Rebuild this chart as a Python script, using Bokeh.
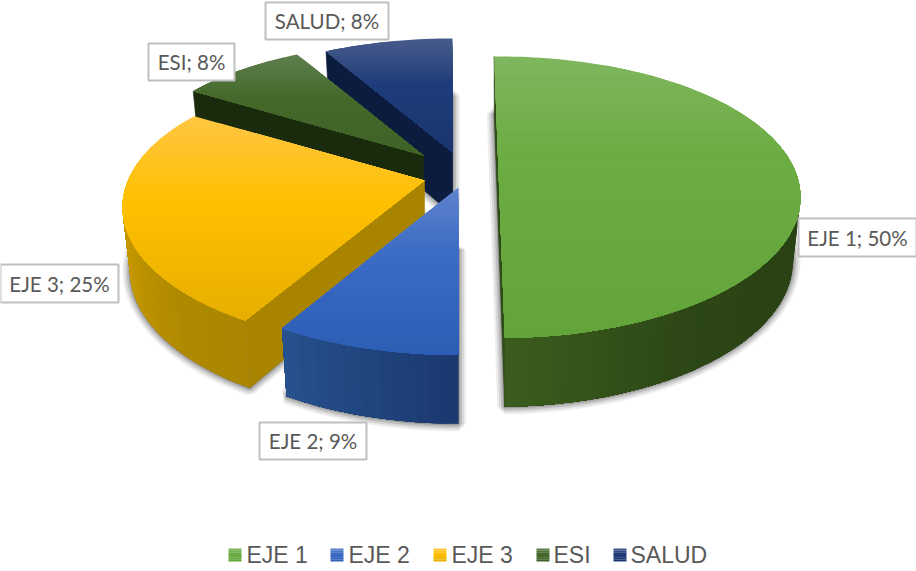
import math
from bokeh.plotting import figure
from bokeh.models import Range1d, ColumnDataSource
from bokeh.core.properties import value
from bokeh.embed import file_html
from bokeh.resources import INLINE

# ---------- data ----------
categories = ["EJE 1", "EJE 2", "EJE 3", "ESI", "SALUD"]
percent = [50, 9, 25, 8, 8]

# ---------- style / layout ----------
W, H = 916, 571
R, RT, K = 296.5, 135.7, 0.19
DEPTH, BX, BY = 62.0, 0.975, 1.04
START = -1.0
apex = [(498, 170), (458, 187), (424, 180), (423, 155), (452, 152)]
nudge = [(0, 0), (1.0, -1.6), (-1.0, 0), (0, 0), (0, 1.0)]
paint_order = [0, 4, 3, 2, 1]
top_stops = [
    [(0, "#7FB65E"), (0.35, "#6BAD42"), (1, "#63A43A")],
    [(0, "#5F83CC"), (0.4, "#3B6BC4"), (1, "#2D5EB6")],
    [(0, "#FFC643"), (0.42, "#FFC000"), (1, "#E6AE00")],
    [(0, "#5F7F50"), (0.42, "#44692A"), (1, "#3F6327")],
    [(0, "#485C8A"), (0.4, "#1F3C7A"), (1, "#1A3570")],
]
wall_stops = [
    [(90, "#2B4515"), (125, "#2A4214"), (150, "#2D4816"), (180, "#3C5D1E")],
    [(180, "#1B386E"), (210, "#26528F")],
    [(205, "#A98400"), (225, "#AE8900"), (255, "#C99A00"), (285, "#DBA800")],
    [(300, "#1A2A0D"), (330, "#1A2A0D")],
    [(330, "#0C1C3E"), (360, "#0C1C3E")],
]
cut_color = ["#2F4C18", "#1B386E", "#A98400", "#1A2A0D", "#0C1C3E"]
SHADOW = [(15, 0.10), (11, 0.14), (7, 0.20), (3, 0.30)]
TXT = "#595959"
label_box = [(798, 916, 218, 256), (259, 366, 422, 459), (0, 118, 264, 302), (148, 234, 43, 80), (265, 388, 2, 39)]
legend_sq = [228, 330, 433, 536, 613]
legend_tx = [246, 348, 451, 553, 630]


def hex2rgb(c):
    return tuple(int(c[i:i + 2], 16) for i in (1, 3, 5))


def mix(stops, f):
    if f <= stops[0][0]:
        return stops[0][1]
    for (a, ca), (b, cb) in zip(stops, stops[1:]):
        if f <= b:
            u = (f - a) / (b - a)
            ra, rb = hex2rgb(ca), hex2rgb(cb)
            return "#%02x%02x%02x" % tuple(round(x + (y - x) * u) for x, y in zip(ra, rb))
    return stops[-1][1]


def top_pt(a, t):
    X, Z = math.sin(math.radians(t)), -math.cos(math.radians(t))
    s = 1 / (1 - K * Z)
    return (a[0] + R * X * s, a[1] + RT * Z * s)


def bot_pt(a, t):
    X, Z = math.sin(math.radians(t)), -math.cos(math.radians(t))
    s = 1 / (1 - K * Z)
    return (a[0] + BX * R * X * s, a[1] + DEPTH + BY * RT * Z * s)


def area(pts):
    return sum(p[0] * q[1] - q[0] * p[1] for p, q in zip(pts, pts[1:] + pts[:1]))


def clip_below(poly, y0):
    out = []
    for p, q in zip(poly, poly[1:] + poly[:1]):
        if p[1] >= y0:
            out.append(p)
        if (p[1] >= y0) != (q[1] >= y0):
            u = (y0 - p[1]) / (q[1] - p[1])
            out.append((p[0] + (q[0] - p[0]) * u, y0))
    return out


xs, ys, fc, fa, lc, lw, la = [], [], [], [], [], [], []


def add(pts, color, alpha=1.0, line=None, width=0.6, lalpha=1.0):
    xs.append([p[0] for p in pts])
    ys.append([p[1] for p in pts])
    fc.append(color)
    fa.append(alpha)
    lc.append(line or color)
    lw.append(width)
    la.append(lalpha)


bounds = []
c = START
tot = sum(percent)
for v, (n0, n1) in zip(percent, nudge):
    bounds.append((c + n0, c + 360 * v / tot + n1))
    c += 360 * v / tot

for i in paint_order:
    a = apex[i]
    t0, t1 = bounds[i]
    n = max(8, int((t1 - t0) / 1.5))
    ts = [t0 + (t1 - t0) * j / n for j in range(n + 1)]
    bottom_a = (a[0], a[1] + DEPTH)
    # soft shadow
    ring = [bottom_a] + [bot_pt(a, t) for t in ts]
    for w, al in SHADOW:
        add(ring, "#404040", al * 0.9, "#404040", w, al * 0.9)
    # cut faces
    for p_, q_, pb, qb in [(a, top_pt(a, t0), bottom_a, bot_pt(a, t0)),
                           (top_pt(a, t1), a, bot_pt(a, t1), bottom_a)]:
        quad = [p_, q_, qb, pb]
        if area(quad) < 0:
            add(quad, cut_color[i])
    # rim: nested polygons so that neighbouring strips leave no seams
    vis = [j for j in range(n) if area([top_pt(a, ts[j]), top_pt(a, ts[j + 1]),
                                        bot_pt(a, ts[j + 1]), bot_pt(a, ts[j])]) < 0]
    for j in vis:
        tail = ts[j:vis[-1] + 2]
        pts = [top_pt(a, t) for t in tail] + [bot_pt(a, t) for t in reversed(tail)]
        add(pts, mix(wall_stops[i], (ts[j] + ts[j + 1]) / 2), 1.0, None, 0.0, 0.0)
    # top face
    poly = [a] + [top_pt(a, t) for t in ts]
    ymin = min(q[1] for q in poly)
    ymax = max(q[1] for q in poly)
    bands = 30
    for b in range(bands):
        y0 = ymin + (ymax - ymin) * b / bands
        part = clip_below(poly, y0) if b else poly
        if len(part) >= 3:
            add(part, mix(top_stops[i], (b + 0.5) / bands), 1.0, None, 0.0, 0.0)

p = figure(width=W, height=H, x_range=Range1d(0, W), y_range=Range1d(H, 0),
           toolbar_location=None, output_backend="svg", min_border=0,
           x_axis_type=None, y_axis_type=None, outline_line_color=None)
p.grid.visible = False

p.patches("xs", "ys", source=ColumnDataSource(dict(xs=xs, ys=ys, fc=fc, fa=fa, lc=lc, lw=lw, la=la)),
          fill_color="fc", fill_alpha="fa", line_color="lc", line_width="lw", line_alpha="la")

# data labels
labels = [f"{c}; {v}%" for c, v in zip(categories, percent)]
p.quad(left=[b[0] for b in label_box], right=[b[1] for b in label_box],
       top=[b[2] for b in label_box], bottom=[b[3] for b in label_box],
       fill_color="white", line_color="#BFBFBF", line_width=2)
p.text(x=[(b[0] + b[1]) / 2 for b in label_box], y=[(b[2] + b[3]) / 2 for b in label_box], text=labels,
       text_align="center", text_baseline="middle", text_color=TXT,
       text_font=value("Lato"), text_font_size="20.5px")

# legend
for i, (sx, tx) in enumerate(zip(legend_sq, legend_tx)):
    for b in range(6):
        p.quad(left=[sx], right=[sx + 13], top=[548 + b * 13 / 6], bottom=[548 + (b + 1) * 13 / 6],
               fill_color=mix(top_stops[i], (b + 0.5) / 6), line_color=None)
p.text(x=legend_tx, y=[554.5] * 5, text=categories, text_align="left", text_baseline="middle",
       text_color=TXT, text_font=value("Liberation Sans"), text_font_size="23px")

open("out.html", "w").write(file_html(p, INLINE))
